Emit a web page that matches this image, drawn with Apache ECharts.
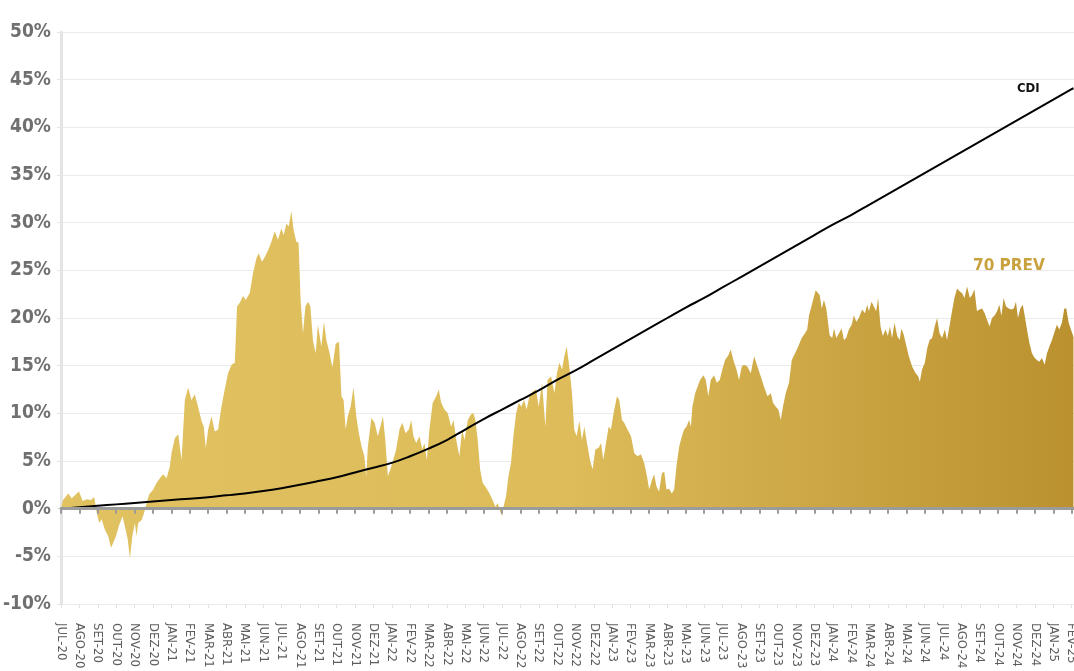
<html>
<head>
    <meta charset="utf-8">
    <title>70 PREV x CDI</title>
    <script src="https://cdn.jsdelivr.net/npm/echarts@6.0.0/dist/echarts.min.js"></script>
    <style>
        body { margin: 0; background: #fff; }
        #chartmain { width: 1074px; height: 671px; }
    </style>
</head>
<body>
<div id="chartmain"></div>
<script type="text/javascript">
    // rótulos dos meses (um por tique do eixo x)
    var meses = ['JUL-20','AGO-20','SET-20','OUT-20','NOV-20','DEZ-20',
        'JAN-21','FEV-21','MAR-21','ABR-21','MAI-21','JUN-21','JUL-21','AGO-21','SET-21','OUT-21','NOV-21','DEZ-21',
        'JAN-22','FEV-22','MAR-22','ABR-22','MAI-22','JUN-22','JUL-22','AGO-22','SET-22','OUT-22','NOV-22','DEZ-22',
        'JAN-23','FEV-23','MAR-23','ABR-23','MAI-23','JUN-23','JUL-23','AGO-23','SET-23','OUT-23','NOV-23','DEZ-23',
        'JAN-24','FEV-24','MAR-24','ABR-24','MAI-24','JUN-24','JUL-24','AGO-24','SET-24','OUT-24','NOV-24','DEZ-24',
        'JAN-25','FEV-25'];

    // rentabilidade acumulada do 70 PREV (%): [meses desde JUL-20, valor]
    var fundo = [[0,0],[0.11,0.9],[0.40,1.6],[0.58,1.1],[0.76,1.4],[0.98,1.8],[1.18,0.8],[1.40,1.0],[1.61,0.9],[1.81,1.2],
        [1.94,-0.4],[2.08,-1.5],[2.21,-1.1],[2.39,-2.2],[2.57,-2.9],[2.72,-4.1],[2.84,-3.6],[2.99,-2.9],[3.17,-1.7],[3.35,-0.8],
        [3.48,-1.9],[3.63,-3.2],[3.75,-5.2],[3.88,-2.9],[4.02,-1.5],[4.11,-2.9],[4.20,-1.5],[4.39,-1.2],[4.51,-0.5],[4.66,0.6],
        [4.80,1.5],[5.02,2.0],[5.20,2.7],[5.38,3.2],[5.56,3.6],[5.74,3.2],[5.83,3.8],[5.92,4.4],[6.02,5.9],[6.20,7.4],
        [6.38,7.8],[6.56,5.1],[6.74,11.4],[6.92,12.7],[7.10,11.4],[7.28,12.0],[7.46,10.7],[7.65,9.2],[7.77,8.6],[7.88,6.4],
        [8.01,8.3],[8.19,9.7],[8.37,8.1],[8.55,8.3],[8.73,10.7],[8.91,12.5],[9.09,14.2],[9.28,15.1],[9.46,15.3],[9.58,21.2],
        [9.73,21.6],[9.91,22.3],[10.05,21.9],[10.27,22.6],[10.45,24.7],[10.64,26.3],[10.76,26.8],[10.94,25.9],[11.09,26.4],[11.27,27.1],
        [11.45,28.0],[11.63,29.1],[11.81,28.2],[11.99,29.4],[12.12,28.7],[12.27,29.9],[12.39,29.6],[12.54,31.2],[12.66,29.2],[12.81,28.0],
        [12.93,27.9],[13.04,21.9],[13.17,18.4],[13.30,21.2],[13.44,21.7],[13.57,21.2],[13.71,17.7],[13.86,16.3],[13.98,19.3],[14.17,17.0],
        [14.31,19.6],[14.44,17.7],[14.62,16.3],[14.77,14.8],[14.95,17.3],[15.13,17.5],[15.26,11.8],[15.38,11.4],[15.49,8.3],[15.61,9.7],
        [15.76,10.7],[15.92,12.7],[16.07,9.7],[16.21,7.9],[16.36,6.5],[16.51,5.5],[16.61,3.4],[16.70,6.5],[16.89,9.5],[17.07,9.0],
        [17.24,7.6],[17.38,8.6],[17.52,9.7],[17.65,7.2],[17.79,3.4],[17.92,4.1],[18.06,5.0],[18.24,6.2],[18.42,8.3],[18.57,9.0],
        [18.75,7.9],[18.93,8.3],[19.06,9.3],[19.18,7.6],[19.33,6.9],[19.51,7.6],[19.66,6.2],[19.78,6.9],[19.91,5.1],[20.05,8.3],
        [20.23,11.1],[20.42,11.8],[20.56,12.5],[20.69,11.1],[20.87,10.4],[21.05,10.0],[21.23,8.6],[21.36,9.3],[21.51,7.2],[21.68,5.5],
        [21.83,8.3],[21.96,7.2],[22.14,9.3],[22.32,9.9],[22.45,10.0],[22.55,9.3],[22.68,7.2],[22.81,4.1],[22.95,2.7],[23.14,2.2],
        [23.32,1.6],[23.49,0.9],[23.64,0.2],[23.77,0.6],[23.90,-0.3],[24.01,-0.8],[24.08,0.2],[24.22,1.3],[24.35,3.4],[24.49,4.8],
        [24.62,7.6],[24.77,10.0],[24.91,11.1],[25.05,10.7],[25.20,11.4],[25.34,10.4],[25.49,11.8],[25.67,12.3],[25.85,12.5],[26.00,10.7],
        [26.18,13.2],[26.36,8.6],[26.48,13.5],[26.67,13.9],[26.85,12.1],[26.99,14.2],[27.12,15.3],[27.27,14.6],[27.39,16.0],[27.52,17.0],
        [27.66,14.9],[27.81,12.1],[27.93,8.3],[28.06,7.6],[28.21,9.2],[28.35,7.2],[28.48,8.6],[28.66,6.5],[28.80,5.0],[28.93,4.1],
        [29.08,6.2],[29.26,6.4],[29.39,6.9],[29.51,5.1],[29.66,6.9],[29.80,8.6],[29.93,8.3],[30.07,10.0],[30.26,11.8],[30.38,11.4],
        [30.53,9.3],[30.65,9.0],[30.83,8.3],[31.02,7.6],[31.20,5.8],[31.38,5.5],[31.56,5.7],[31.74,4.8],[31.89,3.4],[32.01,2.0],
        [32.16,3.0],[32.28,3.6],[32.41,2.3],[32.55,1.8],[32.70,3.7],[32.83,3.9],[32.95,2.0],[33.10,2.1],[33.24,1.6],[33.37,2.0],
        [33.49,4.4],[33.64,6.5],[33.79,7.6],[33.91,8.3],[34.04,8.6],[34.18,9.3],[34.28,8.6],[34.36,10.7],[34.51,12.1],[34.64,12.8],
        [34.78,13.5],[34.96,14.0],[35.09,13.5],[35.23,11.8],[35.36,13.5],[35.54,14.0],[35.69,13.2],[35.85,13.5],[35.99,14.6],[36.14,15.6],
        [36.32,16.1],[36.45,16.7],[36.59,15.6],[36.76,14.6],[36.90,13.5],[37.05,14.9],[37.17,15.1],[37.35,14.9],[37.54,14.2],[37.72,16.0],
        [37.90,14.9],[38.08,13.9],[38.26,12.8],[38.45,11.8],[38.63,12.1],[38.75,11.1],[38.90,10.7],[39.04,10.4],[39.17,9.3],[39.29,10.7],
        [39.44,12.1],[39.62,13.2],[39.77,15.6],[39.95,16.3],[40.12,17.0],[40.31,17.9],[40.49,18.4],[40.61,18.8],[40.71,20.3],[40.89,21.6],
        [41.07,22.9],[41.16,23.1],[41.29,22.4],[41.40,21.0],[41.52,21.9],[41.65,21.0],[41.74,20.9],[41.83,18.2],[41.97,17.9],[42.07,18.9],
        [42.19,17.9],[42.34,18.4],[42.48,18.9],[42.61,17.7],[42.73,17.9],[42.88,18.8],[43.03,19.3],[43.15,20.3],[43.28,19.6],[43.42,20.0],
        [43.60,20.9],[43.75,20.5],[43.88,21.4],[43.97,20.7],[44.11,21.7],[44.24,21.2],[44.36,20.7],[44.47,22.1],[44.60,19.1],[44.73,18.1],
        [44.87,18.8],[45.00,18.1],[45.11,19.1],[45.23,17.9],[45.36,19.5],[45.51,18.1],[45.64,17.7],[45.74,18.9],[45.87,18.2],[45.99,17.2],
        [46.14,16.0],[46.32,14.9],[46.51,14.2],[46.65,13.9],[46.74,13.3],[46.86,14.6],[47.01,15.3],[47.14,16.8],[47.27,17.7],[47.41,17.9],
        [47.55,19.1],[47.68,20.0],[47.81,18.4],[47.95,17.9],[48.10,18.8],[48.22,17.7],[48.35,19.1],[48.49,20.7],[48.62,22.1],[48.77,23.1],
        [48.90,22.8],[49.04,22.6],[49.17,22.1],[49.31,23.3],[49.46,22.1],[49.58,22.4],[49.71,23.0],[49.85,20.7],[49.98,20.9],[50.13,21.0],
        [50.27,20.5],[50.40,19.8],[50.53,19.1],[50.67,20.0],[50.82,20.3],[50.94,20.7],[51.07,21.4],[51.18,20.2],[51.30,22.1],[51.43,21.2],
        [51.58,21.0],[51.72,20.9],[51.85,21.0],[51.97,21.7],[52.08,20.0],[52.21,21.0],[52.34,21.4],[52.45,20.2],[52.57,18.8],[52.70,17.4],
        [52.84,16.3],[52.99,15.8],[53.11,15.6],[53.24,15.4],[53.38,15.8],[53.53,15.1],[53.66,16.3],[53.79,17.0],[53.93,17.7],[54.08,18.6],
        [54.20,19.3],[54.33,18.8],[54.47,19.5],[54.60,21.0],[54.71,21.0],[54.84,19.5],[55.1,18.0]];

    // CDI acumulado (%), fim de cada mês
    var cdiMes = [0,1,2,3,4,5,6,7,8,9,10,11,12,13,14,15,16,17,18,19,20,21,22,23,24,25,26,27,
        28,29,30,31,32,33,34,35,36,37,38,39,40,41,42,43,44,45,46,47,48,49,50,51,52,53,54,55,55.1];
    var cdi = [0,0.15,0.3,0.45,0.6,0.75,0.9,1.05,1.2,1.4,1.6,1.85,2.15,2.5,2.9,3.3,3.8,4.3,4.8,5.5,
        6.3,7.2,8.3,9.4,10.4,11.4,12.4,13.5,14.5,15.6,16.7,17.8,18.9,20.0,21.1,22.1,23.2,24.3,25.4,26.5,
        27.6,28.7,29.8,30.8,31.9,33.0,34.1,35.2,36.3,37.4,38.5,39.6,40.7,41.8,42.9,44.0,44.1];

    var fonte = "'Liberation Sans Narrow', 'DejaVu Sans Condensed', sans-serif";

    var cdiData = [];
    for (var i = 0; i < cdi.length; i++) {
        cdiData.push([cdiMes[i], cdi[i]]);
    }

    function rotuloMes(v) {
        if (Math.abs(v - Math.round(v)) > 0.001) return '';
        return meses[Math.round(v)] || '';
    }

    var myChart = echarts.init(document.getElementById('chartmain'));
    var option = {
        animation: false,
        grid: { left: 61, width: 1029, top: 32, bottom: 67, containLabel: false, outerBoundsMode: 'none' },
        xAxis: [{
            type: 'value', min: 0, max: 56, interval: 1,
            position: 'bottom',
            axisLine: { show: false, onZero: false },
            axisTick: { show: true, length: 4, lineStyle: { color: '#e2e2e2', width: 1 } },
            splitLine: { show: false },
            axisLabel: {
                rotate: -90, margin: 19, fontSize: 13, color: '#5e5e5e',
                padding: [6, 0, 0, 0],
                fontFamily: fonte, formatter: rotuloMes
            }
        }, {
            type: 'value', min: 0, max: 56, interval: 1,
            position: 'bottom',
            axisLine: { show: true, onZero: true, lineStyle: { color: '#9b9b9b', width: 3 } },
            axisTick: { show: true, length: 5, lineStyle: { color: '#9b9b9b', width: 2 } },
            splitLine: { show: false },
            axisLabel: { show: false },
            z: 5
        }],
        yAxis: {
            type: 'value', min: -10, max: 50, interval: 5,
            axisLine: { show: true, lineStyle: { color: '#e4e4e4', width: 3 } },
            axisTick: { show: true, length: 4, lineStyle: { color: '#e4e4e4' } },
            splitLine: { lineStyle: { color: '#ebebeb', width: 1 } },
            axisLabel: {
                formatter: '{value}%', fontSize: 19, fontWeight: 'bold', color: '#707070', margin: 10,
                fontFamily: fonte
            }
        },
        series: [{
            name: '70 PREV',
            type: 'line',
            data: fundo,
            showSymbol: false,
            lineStyle: { width: 0 },
            areaStyle: {
                opacity: 1,
                color: new echarts.graphic.LinearGradient(0, 0, 1, 0, [
                    { offset: 0, color: '#e1c261' },
                    { offset: 0.5, color: '#ddbc59' },
                    { offset: 1, color: '#bb912f' }
                ])
            },
            z: 2
        }, {
            name: 'CDI',
            type: 'line',
            data: cdiData,
            smooth: 0.4,
            showSymbol: false,
            lineStyle: { color: '#000', width: 2 },
            z: 3
        }],
        graphic: [{
            type: 'text', left: 1017, top: 82,
            style: { text: 'CDI', font: "bold 13px " + fonte, fill: '#111' }
        }, {
            type: 'text', left: 973, top: 258,
            style: { text: '70 PREV', font: "bold 17px " + fonte, fill: '#c9a23f' }
        }]
    };
    myChart.setOption(option);
</script>
</body>
</html>
